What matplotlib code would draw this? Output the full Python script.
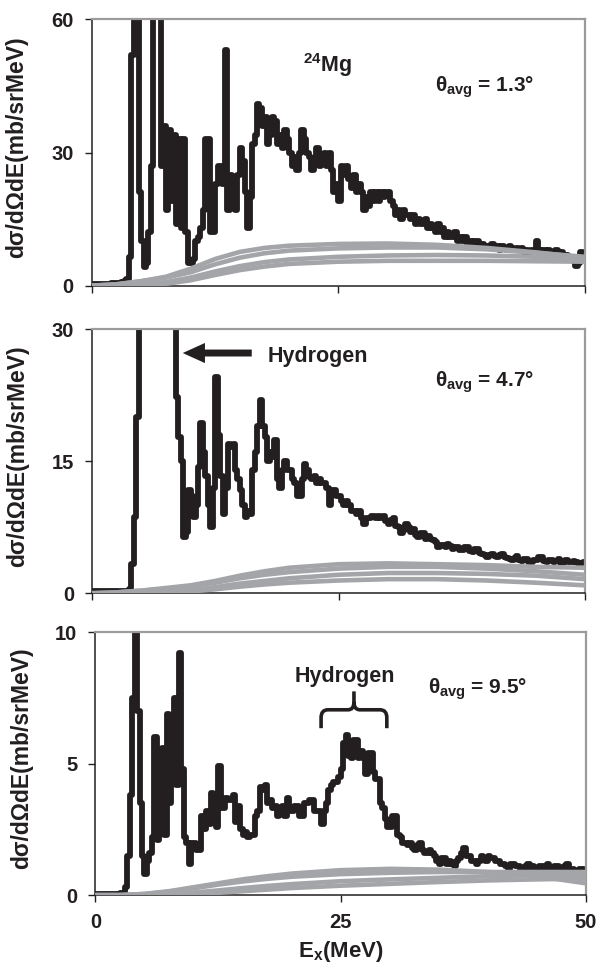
import numpy as np
import matplotlib
matplotlib.use("Agg")
import matplotlib.pyplot as plt
from matplotlib.path import Path
from matplotlib.patches import PathPatch

plt.rcParams['font.family'] = ['Liberation Sans', 'DejaVu Sans']
plt.rcParams['font.weight'] = 'bold'
plt.rcParams['mathtext.fontset'] = 'custom'
plt.rcParams['mathtext.rm'] = 'Liberation Sans:bold'
plt.rcParams['mathtext.it'] = 'Liberation Sans:bold'
plt.rcParams['mathtext.bf'] = 'Liberation Sans:bold'

# bin starts (MeV), 0.25 MeV bins
e_bins = np.arange(0, 50, 0.25)

# black spectra, one value per bin (each row = 5 MeV)
spec_13 = [0.3, 0.3, 0.3, 0.3, 0.4, 0.4, 0.4, 0.4, 0.5, 0.5, 0.5, 0.5, 0.8, 1.0, 1.5, 6.5, 52, 70, 70, 21,
           10, 4.3, 5, 12, 27, 70, 70, 70, 27, 36, 17, 35, 19, 34, 14, 33, 13, 33, 12, 5,
           5, 6, 10, 11, 13, 17, 33, 33, 12, 12, 23, 27, 27, 23, 53, 17, 25, 20, 17, 25,
           31, 28, 21, 13, 20, 32, 34, 41, 40, 36, 38, 32, 34, 38, 37, 32, 34, 31, 35, 33,
           30, 27, 29, 26, 30, 35, 33, 30, 29, 26, 28, 31, 27, 28, 30, 27, 30, 26, 21, 23,
           19, 27, 25, 27, 24, 22, 25, 21, 23, 21, 17, 20, 18, 21, 19, 21, 19, 21, 20, 21,
           21, 19, 18, 16, 17, 15, 17, 16, 16, 15, 16, 14, 15, 14, 14, 15, 13, 14, 13, 12,
           14, 12, 13, 11, 12, 11, 11, 12, 10, 11, 10, 11, 9, 10, 9, 10, 10, 8.5, 9.5, 9,
           9, 8.5, 9.5, 8.5, 9, 8, 9, 8.5, 8, 9, 8.5, 8, 8.5, 8, 8.5, 7.5, 8, 7.5, 8, 8,
           10, 8, 7.5, 8, 7.5, 8, 7, 7.5, 8, 7, 7.5, 6.5, 7, 6.5, 6.5, 5.5, 4.5, 5, 7.5, 7]

spec_47 = [0.2, 0.2, 0.2, 0.2, 0.2, 0.2, 0.2, 0.2, 0.2, 0.2, 0.2, 0.2, 0.2, 0.2, 0.3, 0.5, 3.3, 8.7, 20, 45,
           45, 45, 45, 45, 45, 45, 45, 45, 45, 45, 45, 45, 45, 45, 22.3, 17.8, 15, 6.4, 7, 11.7,
           11, 8.7, 10, 14.4, 19.3, 16, 13.3, 10, 7.5, 12, 24.6, 18, 13.3, 9, 12, 17, 16.6, 17, 14, 13,
           11.7, 10, 8.7, 9.4, 9, 14, 16, 19, 22, 19, 17.8, 15, 16, 15.5, 17.4, 13, 12, 14, 15, 14,
           14, 13, 12.5, 11, 11, 13, 14.7, 14, 13.2, 13, 13.3, 12.5, 13, 12.5, 12.5, 12, 10, 11.7, 11.7, 11,
           11, 10.5, 10, 10.5, 10, 9.4, 9.4, 9, 9.4, 8.5, 7.9, 8.5, 8.5, 8.8, 8.8, 8.6, 8.8, 8.5, 8.8, 8.2,
           7.9, 8.3, 8.6, 7.6, 7.5, 6.8, 7.2, 7.9, 7.5, 7, 7.3, 6.6, 6.4, 6.8, 6.8, 6.2, 6.5, 6.2, 6, 5.8,
           5.2, 5.5, 5.5, 5.2, 5.6, 5.4, 5.0, 5.3, 5.3, 4.9, 4.9, 5.2, 5.2, 4.8, 4.7, 5.0, 5.0, 4.6, 4.5, 4.3,
           4.1, 4.3, 4.5, 4.2, 4.1, 4.3, 4.5, 4.1, 4.0, 3.9, 3.8, 4.0, 4.2, 3.8, 3.7, 3.9, 3.9, 3.6, 3.6, 3.8,
           3.8, 4.1, 4.1, 3.7, 3.6, 3.8, 3.8, 3.5, 3.7, 3.9, 3.4, 3.5, 3.8, 3.6, 3.5, 3.7, 3.6, 3.3, 3.4, 3.6]

spec_95 = [0.05, 0.05, 0.05, 0.05, 0.05, 0.05, 0.05, 0.05, 0.05, 0.05, 0.1, 0.1, 0.3, 1.5, 3.8, 7.5, 12, 7, 3.5, 1.5,
           0.8, 1.3, 1.6, 2.2, 6, 2.1, 3, 5.6, 2.3, 6.9, 3.5, 6.3, 7.5, 4.2, 9.2, 4.8, 2.2, 2.0, 1.2, 2.0,
           2.0, 1.7, 1.7, 3.0, 2.5, 3.2, 2.7, 3.9, 3.0, 2.6, 4.9, 3.3, 3.3, 3.7, 3.6, 3.6, 3.8, 2.8, 3.4, 2.5,
           2.3, 2.4, 2.2, 2.3, 2.3, 3.0, 3.2, 4.1, 4.0, 4.2, 3.5, 3.6, 3.3, 3.4, 3.0, 3.2, 3.4, 3.0, 3.7, 3.2,
           3.2, 3.4, 3.4, 3.0, 3.0, 3.5, 3.5, 3.6, 3.6, 3.2, 3.2, 3.2, 2.7, 3.2, 3.5, 4.0, 4.2, 4.3, 4.3, 4.5,
           4.8, 5.8, 6.1, 5.3, 5.2, 5.9, 5.9, 5.2, 5.5, 5.2, 4.6, 5.4, 5.4, 4.7, 4.4, 4.4, 3.5, 3.3, 2.9, 2.6,
           2.6, 3.0, 3.0, 2.3, 2.2, 2.0, 2.0, 1.9, 2.0, 1.8, 1.7, 1.9, 2.0, 1.7, 1.6, 1.6, 1.7, 1.6, 1.5, 1.3,
           1.2, 1.4, 1.4, 1.2, 1.3, 1.2, 1.1, 1.3, 1.4, 1.6, 1.8, 1.5, 1.5, 1.3, 1.3, 1.2, 1.3, 1.5, 1.4, 1.3,
           1.5, 1.4, 1.4, 1.3, 1.3, 1.2, 1.2, 1.1, 1.0, 1.2, 1.2, 1.1, 1.1, 1.0, 1.0, 1.1, 1.2, 1.0, 1.1, 1.0,
           1.0, 1.1, 1.1, 0.9, 1.2, 1.0, 1.0, 1.1, 1.1, 0.9, 1.0, 1.1, 1.2, 1.0, 1.0, 0.9, 0.9, 1.0, 1.0, 0.9]

# gray calculated curves
e_calc = [0, 2.5, 5, 7.5, 10, 12.5, 15, 17.5, 20, 25, 30, 35, 40, 45, 50]

calc_13 = [
    [0, 0.3, 1.0, 2.0, 3.8, 6.0, 7.6, 8.5, 9.0, 9.4, 9.5, 9.2, 8.5, 7.5, 6.3],
    [0, 0.3, 1.0, 1.8, 3.0, 4.8, 6.3, 7.3, 7.9, 8.4, 8.6, 8.6, 8.2, 7.4, 6.5],
    [0, 0.1, 0.3, 0.8, 1.8, 3.2, 4.4, 5.3, 5.9, 6.5, 6.8, 6.9, 6.8, 6.5, 6.0],
    [0, 0.0, 0.1, 0.4, 1.2, 2.4, 3.5, 4.3, 4.9, 5.4, 5.6, 5.6, 5.6, 5.5, 5.4],
]
calc_47 = [
    [0, 0.1, 0.3, 0.6, 0.9, 1.4, 2.0, 2.5, 2.9, 3.3, 3.4, 3.3, 3.2, 3.0, 2.9],
    [0, 0.1, 0.3, 0.5, 0.8, 1.2, 1.7, 2.1, 2.4, 2.8, 3.0, 3.0, 2.8, 2.5, 2.1],
    [0, 0.0, 0.05, 0.15, 0.35, 0.7, 1.1, 1.4, 1.7, 2.1, 2.3, 2.3, 2.2, 2.0, 1.6],
    [0, 0.0, 0.0, 0.05, 0.2, 0.45, 0.75, 1.0, 1.2, 1.45, 1.6, 1.6, 1.45, 1.2, 0.9],
]
calc_95 = [
    [0, 0, 0.05, 0.15, 0.3, 0.45, 0.6, 0.72, 0.82, 0.95, 1.0, 0.97, 0.88, 0.72, 0.45],
    [0, 0, 0.04, 0.13, 0.26, 0.4, 0.52, 0.62, 0.7, 0.8, 0.85, 0.88, 0.88, 0.88, 0.88],
    [0, 0, 0, 0.03, 0.1, 0.18, 0.27, 0.35, 0.42, 0.53, 0.6, 0.66, 0.72, 0.76, 0.78],
    [0, 0, 0, 0.01, 0.04, 0.09, 0.15, 0.21, 0.27, 0.36, 0.43, 0.5, 0.56, 0.6, 0.63],
]

y_max = [60, 30, 10]
y_ticks = [[0, 30, 60], [0, 15, 30], [0, 5, 10]]

BLACK = '#231f20'
GRAY = '#a3a5a8'

fig = plt.figure(figsize=(6.07, 9.67), dpi=100)
positions = [[0.1511, 0.7046, 0.8127, 0.2753],
             [0.1516, 0.3865, 0.8122, 0.2730],
             [0.1572, 0.0743, 0.8082, 0.2719]]

spectra = [spec_13, spec_47, spec_95]
calcs = [calc_13, calc_47, calc_95]
axes = []
for i in range(3):
    ax = fig.add_axes(positions[i])
    axes.append(ax)
    xs = np.append(e_bins, 50)
    ys = np.append(spectra[i], spectra[i][-1])
    ax.plot(xs, ys, drawstyle='steps-post', color=BLACK, lw=4.2, zorder=2)
    for c in calcs[i]:
        ax.plot(e_calc, c, color=GRAY, lw=3.3, zorder=3, solid_capstyle='butt')
    ax.set_xlim(0, 50)
    ax.set_ylim(0, y_max[i])
    ax.set_xticks([0, 25, 50])
    ax.set_yticks(y_ticks[i])
    ax.tick_params(direction='out', length=5, width=1, color=BLACK,
                   labelsize=14.5, labelcolor=BLACK, pad=8)
    if i < 2:
        ax.set_xticklabels([])
    for side in ['left', 'bottom']:
        ax.spines[side].set_color(BLACK)
        ax.spines[side].set_linewidth(1.1)
    for side in ['top', 'right']:
        ax.spines[side].set_color('#9b9b9b')
        ax.spines[side].set_linewidth(1.6)
    ax.set_ylabel('dσ/dΩdE(mb/srMeV)', fontsize=16.5, fontweight='bold', color=BLACK)
    ax.yaxis.set_label_coords(-0.128, 0.52)

ax1, ax2, ax3 = axes

ax1.text(21.4, 48.2, r'$^{24}$Mg', fontsize=15.5, color=BLACK, va='baseline')
ax1.text(34.8, 43.7, r'$\theta_{\rm avg}$ = 1.3°', fontsize=15, color=BLACK, va='baseline')
ax2.text(34.8, 23.5, r'$\theta_{\rm avg}$ = 4.7°', fontsize=15, color=BLACK, va='baseline')
ax3.text(33.9, 7.68, r'$\theta_{\rm avg}$ = 9.5°', fontsize=15, color=BLACK, va='baseline')

# arrow to the hydrogen peak
ax2.annotate('', xy=(9.2, 27.3), xytext=(16.2, 27.3),
             arrowprops=dict(arrowstyle='simple,head_length=1.6,head_width=1.45,tail_width=0.5',
                             mutation_scale=10, fc=BLACK, ec=BLACK, lw=0,
                             shrinkA=0, shrinkB=0))
ax2.text(22.9, 26.9, 'Hydrogen', fontsize=15.5, color=BLACK, ha='center', va='center')

# brace over the hydrogen bump
ax3.text(25.4, 8.31, 'Hydrogen', fontsize=15.5, color=BLACK, ha='center', va='center')
xl, xr, xc = 23.0, 29.7, 26.35
yb, ye, yt = 7.05, 6.35, 7.75
verts = [(xl, ye), (xl, yb - 0.3), (xl, yb), (xl + 0.7, yb), (xc - 0.6, yb),
         (xc, yb), (xc, yb + 0.3), (xc, yt),
         (xr, ye), (xr, yb - 0.3), (xr, yb), (xr - 0.7, yb), (xc + 0.6, yb),
         (xc, yb), (xc, yb + 0.3)]
codes = [Path.MOVETO, Path.LINETO, Path.CURVE3, Path.CURVE3, Path.LINETO,
         Path.CURVE3, Path.CURVE3, Path.LINETO,
         Path.MOVETO, Path.LINETO, Path.CURVE3, Path.CURVE3, Path.LINETO,
         Path.CURVE3, Path.CURVE3]
ax3.add_patch(PathPatch(Path(verts, codes), fill=False, ec=BLACK, lw=2.6,
                        capstyle='butt', zorder=4))

fig.text(341 / 607, 0.003, r'E$_{\rm x}$(MeV)', fontsize=16,
         color=BLACK, ha='center', va='bottom')

fig.savefig('out.png', dpi=100)
